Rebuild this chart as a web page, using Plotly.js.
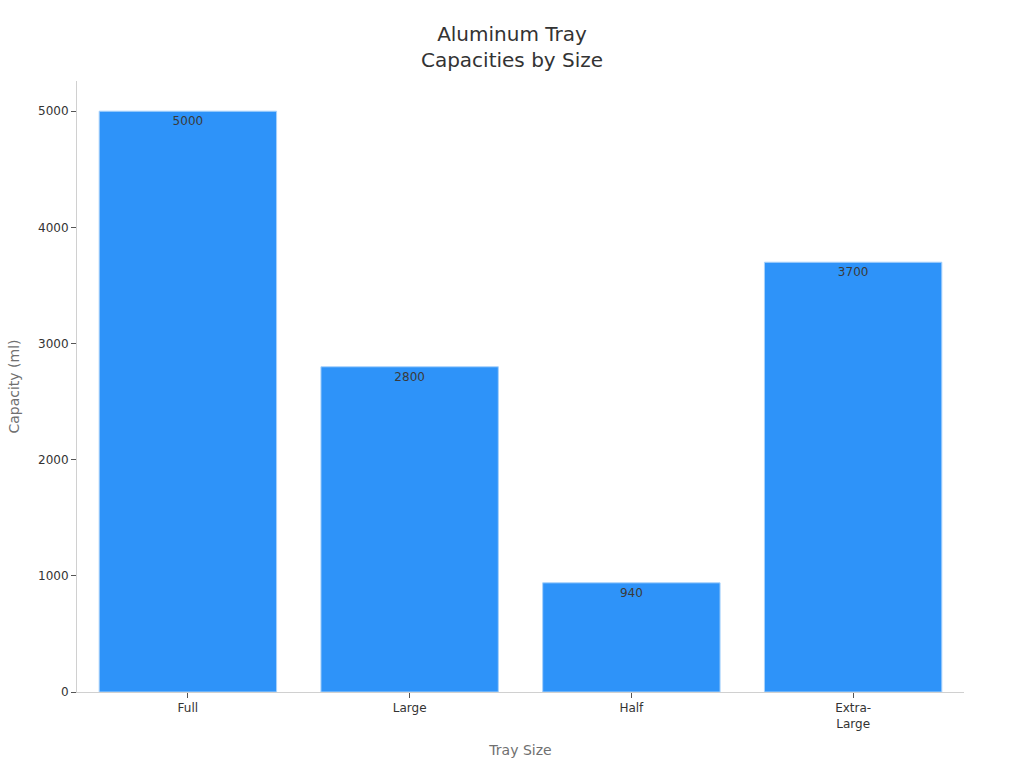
<!DOCTYPE html>
<html>
<head>
<meta charset="utf-8">
<script src="https://cdn.plot.ly/plotly-3.0.1.min.js"></script>
<style>
  html, body { margin: 0; padding: 0; background: #ffffff; }
  #chart { width: 1024px; height: 768px; }
</style>
</head>
<body>
<div id="chart"></div>
<script>
// ─── Data ─────────────────────────────────────────────────────────────────────
const traySizes = ['Full', 'Large', 'Half', 'Extra-<br>Large'];
const capacities = [5000, 2800, 940, 3700];
const yTicks = [0, 1000, 2000, 3000, 4000, 5000];

const FONT = 'DejaVu Sans, Verdana, sans-serif';

// ─── Trace ────────────────────────────────────────────────────────────────────
const barTrace = {
    type: 'bar',
    x: traySizes,
    y: capacities,
    text: capacities.map(String),
    textposition: 'inside',
    insidetextanchor: 'end',
    textfont: { family: FONT, size: 12, color: '#3a3a3a' },
    marker: {
        color: '#2e93f9',
        line: { color: '#a9d2fb', width: 1 },
    },
    hoverinfo: 'x+y',
};

// ─── Layout ───────────────────────────────────────────────────────────────────
const layout = {
    width: 1024,
    height: 768,
    paper_bgcolor: '#ffffff',
    plot_bgcolor: '#ffffff',
    font: { family: FONT, color: '#333333', size: 12 },
    margin: { l: 77, r: 60, t: 81, b: 76 },
    showlegend: false,
    bargap: 0.2,
    title: {
        text: 'Aluminum Tray<br>Capacities by Size',
        font: { family: FONT, size: 20, color: '#333333' },
        x: 0.5,
        xanchor: 'center',
        y: 0.947,
        yanchor: 'top',
    },
    xaxis: {
        title: { text: 'Tray Size', font: { family: FONT, size: 14, color: '#707070' }, standoff: 15 },
        showline: true,
        linecolor: '#d0d0d0',
        linewidth: 1,
        showgrid: false,
        ticks: 'outside',
        ticklen: 5,
        tickcolor: '#555555',
        tickfont: { family: FONT, size: 12, color: '#333333' },
    },
    yaxis: {
        title: { text: 'Capacity (ml)', font: { family: FONT, size: 14, color: '#707070' }, standoff: 15 },
        range: [0, 5260],
        tickvals: yTicks,
        showline: true,
        linecolor: '#d0d0d0',
        linewidth: 1,
        showgrid: false,
        zeroline: false,
        ticks: 'outside',
        ticklen: 5,
        tickcolor: '#555555',
        tickfont: { family: FONT, size: 12, color: '#333333' },
    },
};

Plotly.newPlot('chart', [barTrace], layout, { displayModeBar: false, staticPlot: true });
</script>
</body>
</html>
